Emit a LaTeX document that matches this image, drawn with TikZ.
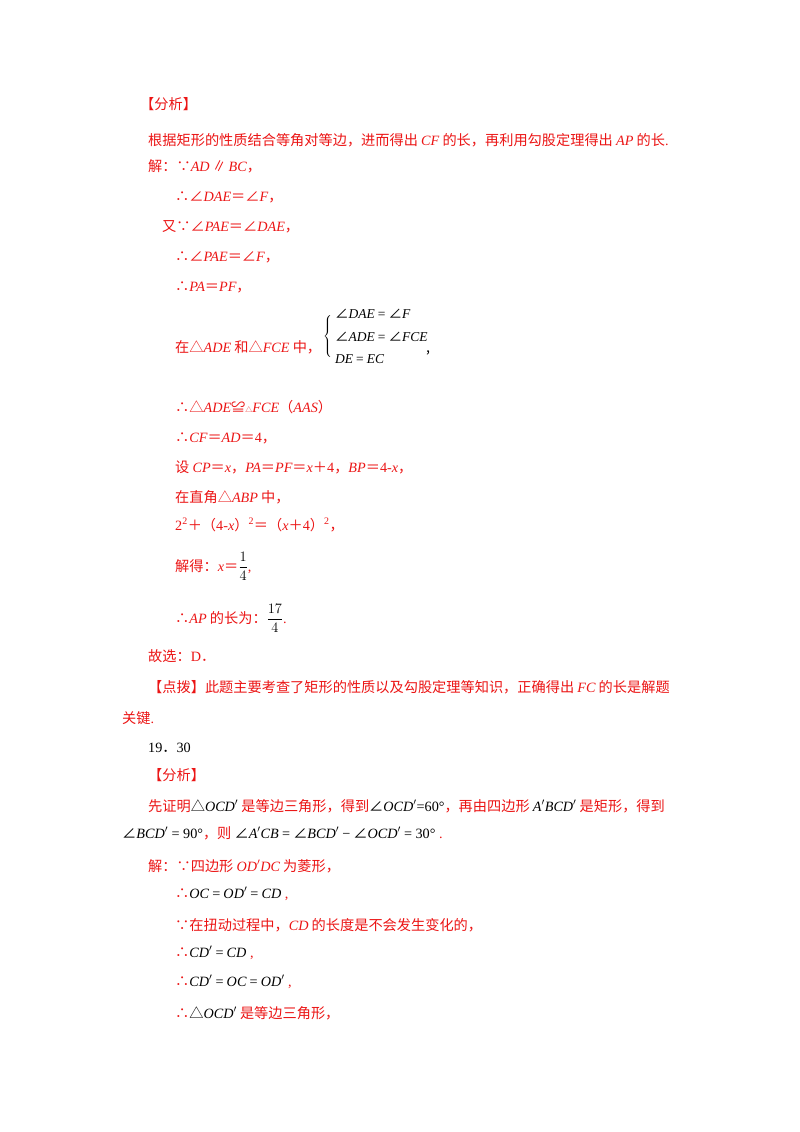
\documentclass[tikz,border=0pt]{standalone}
\usepackage{fontspec}
\setmainfont{Noto Sans CJK SC}
\newfontfamily\lser{Liberation Serif}
\newcommand\I[1]{{\lser\itshape #1}}
\newcommand\R[1]{{\lser #1}}
\definecolor{rd}{RGB}{235,20,20}
\begin{document}
\begin{tikzpicture}[x=1pt,y=-1pt,
  t/.style={anchor=base west,inner sep=0pt,text=rd,font=\fontsize{14.2}{17}\selectfont},
  k/.style={t,text=black}]
\useasboundingbox (0,0) rectangle (800,1132);
\node[t] (a1) at (140,109) {【分析】};
\node[t] (a2) at (148,145) {根据矩形的性质结合等角对等边，进而得出 \I{CF} 的长，再利用勾股定理得出 \I{AP} 的长\R{.}};
\node[t] (a3) at (148,171) {解：∵\I{AD}\,∥\,\I{BC}，};
\node[t] (a4) at (175,201) {∴∠\I{DAE}＝∠\I{F}，};
\node[t] (a5) at (162,231) {又∵∠\I{PAE}＝∠\I{DAE}，};
\node[t] (a6) at (175,261) {∴∠\I{PAE}＝∠\I{F}，};
\node[t] (a7) at (175,291) {∴\I{PA}＝\I{PF}，};
\node[t] (a8) at (175,352) {在△\I{ADE} 和△\I{FCE} 中，};
\node[k,anchor=east,inner sep=0pt] (br) at (333,336) {$\left\{\rule{0pt}{26pt}\right.$\kern-0.5pt};
\node[k,font=\fontsize{13.5}{15}\selectfont] (b1) at (335,318) {∠\I{DAE} \R{=} ∠\I{F}};
\node[k,font=\fontsize{13.5}{15}\selectfont] (b2) at (335,341) {∠\I{ADE} \R{=} ∠\I{FCE}};
\node[k,font=\fontsize{13.5}{15}\selectfont] (b3) at (335,363) {\I{DE} \R{=} \I{EC}};
\node[k] (bc) at (426,352) {,};
\node[t] (a9) at (175,412) {∴△\I{ADE}≌{\scriptsize △}\I{FCE}（\I{AAS}）};
\node[t] (a10) at (175,442) {∴\I{CF}＝\I{AD}＝\R{4}，};
\node[t] (a11) at (175,472) {设 \I{CP}＝\I{x}，\I{PA}＝\I{PF}＝\I{x}＋\R{4}，\I{BP}＝\R{4}\R{-}\I{x}，};
\node[t] (a12) at (175,502) {在直角△\I{ABP} 中，};
\node[t] (a13) at (175,530) {\R{2\textsuperscript{2}}＋（\R{4}\R{-}\I{x}）\R{\textsuperscript{2}}＝（\I{x}＋\R{4}）\R{\textsuperscript{2}}，};
\node[t] (a14) at (175,571) {解得：\I{x}＝{\color{black}$\displaystyle\frac{1}{4}$}\R{,}};
\node[t] (a15) at (175,623) {∴\I{AP} 的长为：{\color{black}$\displaystyle\frac{17}{4}$}\R{.}};
\node[t] (a16) at (148,661) {故选：\R{D}．};
\node[t] (a17) at (148,692) {【点拨】此题主要考查了矩形的性质以及勾股定理等知识，正确得出 \I{FC} 的长是解题};
\node[t] (a18) at (122,723) {关键\R{.}};
\node[k] (a19) at (148,752) {\R{19}．\R{30}};
\node[t] (c1) at (148,780) {【分析】};
\node[t] (c2) at (148,811) {先证明{\color{black}△\I{OCD}$'$} 是等边三角形，得到{\color{black}∠\I{OCD}$'$\R{=60°}}，再由四边形 {\color{black}\I{A}$'$\I{BCD}$'$} 是矩形，得到};
\node[t] (c3) at (122,838) {{\color{black}∠\I{BCD}$'$\R{ = 90°}}，则 {\color{black}∠\I{A}$'$\I{CB} \R{=} ∠\I{BCD}$'$ \R{−} ∠\I{OCD}$'$ \R{= 30°}}\R{ .}};
\node[t] (c4) at (148,871) {解：∵四边形 \I{OD}$'$\I{DC} 为菱形，};
\node[t] (c5) at (175,898) {∴{\color{black}\I{OC} \R{=} \I{OD}$'$ \R{=} \I{CD}}\R{ ,}};
\node[t] (c6) at (175,930) {∵在扭动过程中，\I{CD} 的长度是不会发生变化的，};
\node[t] (c7) at (175,957) {∴{\color{black}\I{CD}$'$ \R{=} \I{CD}}\R{ ,}};
\node[t] (c8) at (175,986) {∴{\color{black}\I{CD}$'$ \R{=} \I{OC} \R{=} \I{OD}$'$}\R{ ,}};
\node[t] (c9) at (175,1018) {∴{\color{black}△\I{OCD}$'$} 是等边三角形，};
\end{tikzpicture}
\end{document}
